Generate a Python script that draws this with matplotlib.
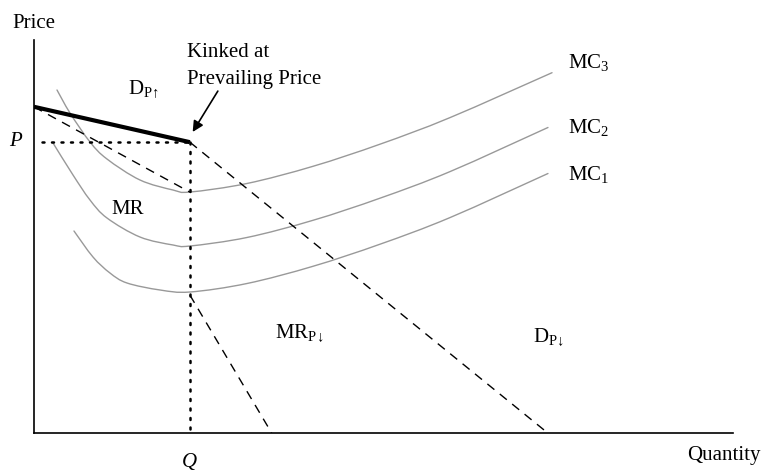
import matplotlib
matplotlib.use("Agg")
import matplotlib.pyplot as plt
from matplotlib.path import Path
from matplotlib.patches import PathPatch

plt.rcParams['font.family'] = ['Liberation Serif', 'DejaVu Serif']
plt.rcParams['mathtext.fontset'] = 'custom'
plt.rcParams['mathtext.rm'] = 'Liberation Serif'
plt.rcParams['mathtext.it'] = 'Liberation Serif:italic'

# ---- data (quantity, price) in 0..100 units ----
Q_star = 22.3
P_star = 74.0
d_upper_x = [0.0, 22.3]
d_upper_y = [83.0, 74.0]
mr_upper_x = [0.0, 22.3]
mr_upper_y = [83.0, 61.3]
d_lower_x = [22.3, 73.5]
d_lower_y = [74.0, 0.0]
mr_lower_x = [22.3, 34.0]
mr_lower_y = [35.1, 0.0]

mc3_x = [3.29, 5.15, 8.01, 10.44, 15.16, 19.89, 22.32, 30.47, 39.91, 49.50, 59.51, 74.11]
mc3_y = [87.28, 81.42, 74.05, 69.72, 64.38, 61.83, 61.32, 63.49, 67.86, 73.49, 80.25, 91.68]
mc2_x = [2.72, 5.58, 8.01, 10.44, 15.16, 19.89, 22.32, 30.47, 39.91, 49.50, 59.51, 73.53]
mc2_y = [73.79, 65.65, 59.29, 54.71, 49.87, 47.84, 47.58, 49.75, 54.12, 59.75, 66.51, 77.74]
mc1_x = [5.72, 8.44, 10.87, 13.30, 18.03, 22.32, 30.47, 39.91, 49.50, 59.51, 73.53]
mc1_y = [51.40, 44.78, 40.71, 38.17, 36.39, 35.88, 38.04, 42.42, 48.04, 54.81, 66.03]

W, H = 771, 471
fig = plt.figure(figsize=(W / 100, H / 100), dpi=100)
ax = fig.add_axes([34 / W, (H - 433) / H, 699 / W, 393 / H])
ax.set_xlim(0, 100)
ax.set_ylim(0, 100)
ax.set_xticks([])
ax.set_yticks([])
for s in ['top', 'right']:
    ax.spines[s].set_visible(False)
for s in ['left', 'bottom']:
    ax.spines[s].set_linewidth(1.2)
ax.patch.set_alpha(0)


def smooth_path(xs, ys):
    """Catmull-Rom through the read points, rendered as cubic Bezier segments."""
    pts = list(zip(xs, ys))
    verts = [pts[0]]
    codes = [Path.MOVETO]
    n = len(pts)
    for i in range(n - 1):
        p0 = pts[i - 1] if i > 0 else pts[i]
        p1 = pts[i]
        p2 = pts[i + 1]
        p3 = pts[i + 2] if i + 2 < n else pts[i + 1]
        c1 = (p1[0] + (p2[0] - p0[0]) / 6, p1[1] + (p2[1] - p0[1]) / 6)
        c2 = (p2[0] - (p3[0] - p1[0]) / 6, p2[1] - (p3[1] - p1[1]) / 6)
        verts += [c1, c2, p2]
        codes += [Path.CURVE4] * 3
    return Path(verts, codes)


gray = '#999999'
for xs, ys in [(mc3_x, mc3_y), (mc2_x, mc2_y), (mc1_x, mc1_y)]:
    ax.add_patch(PathPatch(smooth_path(xs, ys), facecolor='none', edgecolor=gray,
                           lw=1.0, capstyle='round', joinstyle='round'))

dash = (0, (6.5, 5))
ax.plot(mr_upper_x, mr_upper_y, color='black', lw=1.0, linestyle=dash)
ax.plot(d_lower_x, d_lower_y, color='black', lw=1.0, linestyle=dash)
ax.plot(mr_lower_x, mr_lower_y, color='black', lw=1.0, linestyle=dash)
ax.plot(d_upper_x, d_upper_y, color='black', lw=3.0, solid_capstyle='butt')

dot = (0, (0.8, 3.0))
ax.plot([1.1, Q_star], [P_star, P_star], color='black', lw=1.8, linestyle=dot,
        dash_capstyle='round')
ax.plot([Q_star, Q_star], [P_star, 0], color='black', lw=1.8, linestyle=dot,
        dash_capstyle='round')

fs = 15
kw = dict(clip_on=False, fontsize=fs)
ax.text(-3.15, 104.3, 'Price', ha='left', va='center', **kw)
ax.text(21.9, 95.7, 'Kinked at', ha='left', va='baseline', **kw)
ax.text(21.9, 88.9, 'Prevailing Price', ha='left', va='baseline', **kw)
ax.annotate('', xy=(22.7, 76.6), xytext=(26.3, 87.0),
            arrowprops=dict(arrowstyle='-|>', color='black', lw=1.2,
                            mutation_scale=16, shrinkA=0, shrinkB=0))
ax.text(13.45, 86.0, r'D$_{\mathrm{P\!\uparrow}}$', ha='left', va='baseline', **kw)
ax.text(11.0, 55.7, 'MR', ha='left', va='baseline', **kw)
ax.text(34.5, 23.9, r'MR$_{\mathrm{P\!\downarrow}}$', ha='left', va='baseline', **kw)
ax.text(71.4, 22.9, r'D$_{\mathrm{P\!\downarrow}}$', ha='left', va='baseline', **kw)
ax.text(76.4, 92.9, r'MC$_{3}$', ha='left', va='baseline', **kw)
ax.text(76.4, 76.3, r'MC$_{2}$', ha='left', va='baseline', **kw)
ax.text(76.4, 64.4, r'MC$_{1}$', ha='left', va='baseline', **kw)
ax.text(-2.7, 74.3, 'P', ha='center', va='center', style='italic', **kw)
ax.text(Q_star, -7.6, 'Q', ha='center', va='center', style='italic', **kw)
ax.text(93.4, -6.9, 'Quantity', ha='left', va='baseline', **kw)

fig.savefig('out.png', dpi=100, facecolor='white')
